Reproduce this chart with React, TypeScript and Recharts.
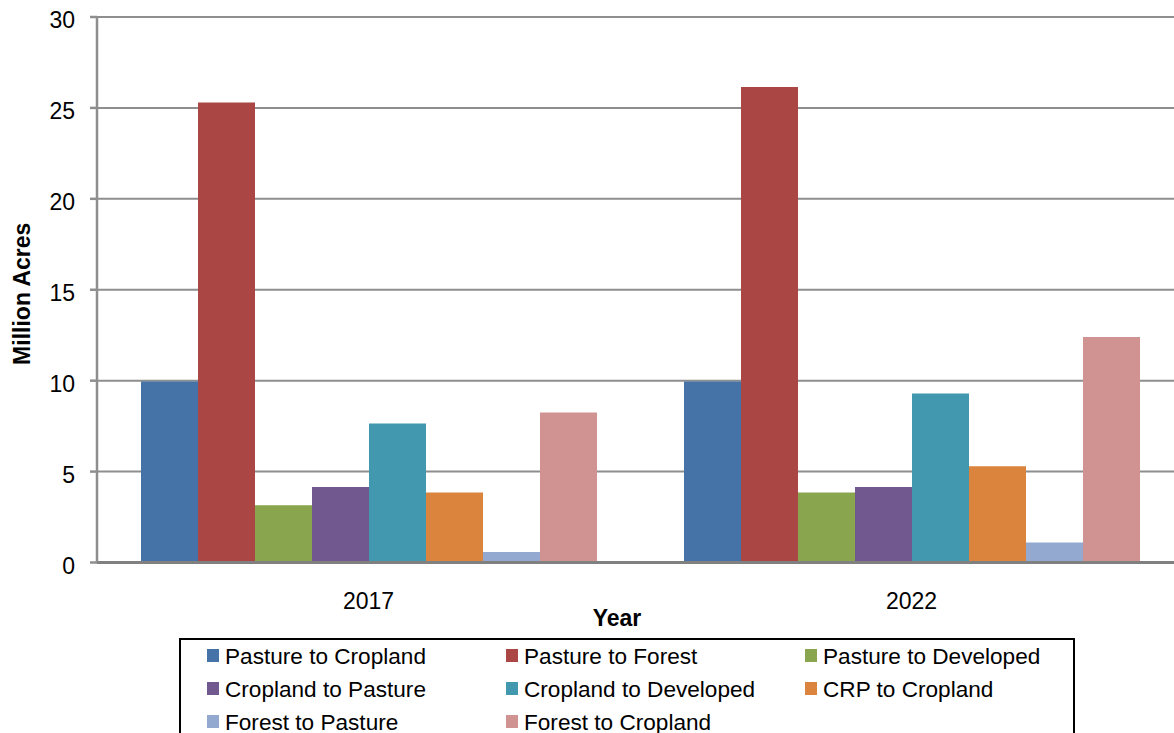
import React from 'react';
import { BarChart, Bar, XAxis, YAxis, CartesianGrid, Legend, Label } from 'recharts';

const YEARS = ['2017', '2022'];
const SERIES = [
  'Pasture to Cropland',
  'Pasture to Forest',
  'Pasture to Developed',
  'Cropland to Pasture',
  'Cropland to Developed',
  'CRP to Cropland',
  'Forest to Pasture',
  'Forest to Cropland',
];
const VALUES_2017 = [9.95, 25.3, 3.15, 4.15, 7.65, 3.85, 0.58, 8.25];
const VALUES_2022 = [9.95, 26.15, 3.85, 4.15, 9.3, 5.3, 1.1, 12.4];
const COLORS = ['#4572A7', '#AA4643', '#89A54E', '#71588F', '#4198AF', '#DB843D', '#93A9CF', '#D19392'];
const Y_TICKS = [0, 5, 10, 15, 20, 25, 30];

const FONT = '"Liberation Sans", Arial, sans-serif';

const data = YEARS.map((year, i) => {
  const vals = i === 0 ? VALUES_2017 : VALUES_2022;
  const row: { [key: string]: any } = { year };
  SERIES.forEach((s, j) => {
    row[s] = vals[j];
  });
  return row;
});

const renderLegend = () => (
  <div
    style={{
      boxSizing: 'border-box',
      width: '100%',
      height: '100%',
      border: '2px solid #000',
      background: '#fff',
      paddingLeft: 26,
      display: 'grid',
      gridTemplateColumns: '299px 299px 299px',
      gridAutoRows: '33px',
      fontFamily: FONT,
      fontSize: 22.6,
      color: '#000',
    }}
  >
    {SERIES.map((name, i) => (
      <div key={name} style={{ display: 'flex', alignItems: 'center', whiteSpace: 'nowrap' }}>
        <span style={{ width: 12, height: 13, background: COLORS[i], marginRight: 6, marginTop: -2 }} />
        {name}
      </div>
    ))}
  </div>
);

export default function App() {
  return (
    <div style={{ position: 'fixed', left: 0, top: 0, width: 1174, height: 733, overflow: 'hidden', background: '#fff' }}>
      <BarChart
        width={1200}
        height={733}
        data={data}
        margin={{ top: 17, right: 17, left: 0, bottom: 110.5 }}
        barGap={0}
        barSize={57}
      >
        <CartesianGrid vertical={false} stroke="#8e8e8e" strokeWidth={2} />
        <XAxis
          dataKey="year"
          height={60}
          stroke="#808080"
          strokeWidth={3}
          tickLine={false}
          tickSize={0}
          tickMargin={30}
          tick={{ fill: '#000', fontSize: 23, fontFamily: FONT }}
        >
          <Label
            position="center"
            content={(props: any) => {
              const vb = props.viewBox;
              return (
                <text
                  x={vb.x + vb.width / 2 - 23}
                  y={626}
                  textAnchor="middle"
                  fontFamily={FONT}
                  fontSize={23}
                  fontWeight="bold"
                  fill="#000"
                >
                  Year
                </text>
              );
            }}
          />
        </XAxis>
        <YAxis
          width={97}
          domain={[0, 30]}
          ticks={Y_TICKS}
          interval={0}
          stroke="#8e8e8e"
          strokeWidth={2.5}
          tickSize={7}
          tickMargin={15}
          tick={{ fill: '#000', fontSize: 23, fontFamily: FONT, dy: 3 }}
        >
          <Label
            position="center"
            content={(props: any) => {
              const vb = props.viewBox;
              const cy = vb.y + vb.height / 2 + 4;
              return (
                <text
                  x={22}
                  y={cy}
                  transform={`rotate(-90, 22, ${cy})`}
                  textAnchor="middle"
                  dominantBaseline="central"
                  fontFamily={FONT}
                  fontSize={23}
                  fontWeight="bold"
                  fill="#000"
                >
                  Million Acres
                </text>
              );
            }}
          />
        </YAxis>
        <Legend
          layout="horizontal"
          verticalAlign="middle"
          align="center"
          content={renderLegend}
          wrapperStyle={{ left: 179, top: 638, width: 896, height: 110 }}
        />
        {SERIES.map((s, i) => (
          <Bar key={s} dataKey={s} fill={COLORS[i]} isAnimationActive={false} />
        ))}
      </BarChart>
    </div>
  );
}
